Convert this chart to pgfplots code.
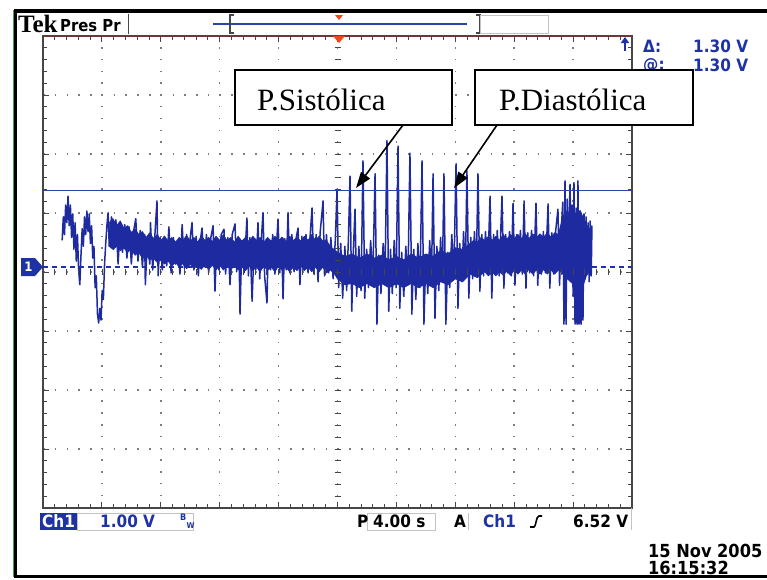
\documentclass[border=0pt]{standalone}
\usepackage{pgfplots}
\pgfplotsset{compat=1.18}
\usepackage{fontspec}
\setmainfont{DejaVu Sans}
\newfontfamily\tekf{DejaVu Sans Condensed}
\newfontfamily\timesf{Liberation Serif}
\usetikzlibrary{arrows.meta}
\definecolor{trace}{RGB}{30,42,160}
\definecolor{cursorblue}{RGB}{40,70,165}
\definecolor{tekblue}{RGB}{30,50,165}
\definecolor{gridgray}{RGB}{125,125,125}
\definecolor{framegray}{RGB}{70,70,70}
\definecolor{topred}{RGB}{110,55,55}
\definecolor{trigred}{RGB}{245,70,20}
\definecolor{boxgray}{RGB}{195,195,195}
\definecolor{tekgreen}{RGB}{60,170,60}
\begin{document}
\begin{tikzpicture}
\useasboundingbox (0pt,0pt) rectangle (767pt,-579pt);
\begin{axis}[
  at={(43pt,-36pt)}, anchor=north west,
  width=589pt, height=472pt, scale only axis,
  xmin=0, xmax=40, ymin=-4.085, ymax=3.915,
  xtick={0,4,...,40},
  ytick={-4.085,-3.085,-2.085,-1.085,-0.085,0.915,1.915,2.915,3.915},
  xticklabels={}, yticklabels={},
  minor x tick num=4, minor y tick num=4,
  tick align=inside, tick pos=both,
  major tick length=6pt, minor tick length=4pt,
  every tick/.style={framegray, line width=0.9pt},
  grid=major,
  major grid style={gridgray, line width=1.5pt, dash pattern=on 1.5pt off 10.28pt},
  axis line style={framegray, line width=1.4pt},
  clip=false,
]
\addplot[tekblue, line width=1.3pt, dash pattern=on 5pt off 4pt] coordinates {(0,0) (40,0)};
% dense part of the trace (envelope of the band)
\addplot[fill=trace, draw=trace, line width=0.8pt, line join=round] coordinates {
(4.5,0.75) (4.75,0.82) (5.0,0.70) (5.25,0.78) (5.5,0.65) (5.75,0.70) (6.0,0.58) (6.25,0.65) (6.5,0.55)
(6.75,0.60) (7.0,0.50) (7.25,0.58) (7.5,0.48) (7.75,0.55) (8.0,0.45) (8.25,0.52) (8.5,0.44) (8.75,0.50)
(9.0,0.42) (9.25,0.50) (9.5,0.45) (9.75,0.53) (10.0,0.44) (10.25,0.50) (10.5,0.42) (10.75,0.52) (11.0,0.45)
(11.25,0.50) (11.5,0.43) (11.75,0.52) (12.0,0.45) (12.25,0.55) (12.5,0.44) (12.75,0.50) (13.0,0.42)
(13.25,0.52) (13.5,0.44) (13.75,0.50) (14.0,0.43) (14.25,0.52) (14.5,0.45) (14.75,0.50) (15.0,0.42)
(15.25,0.50) (15.5,0.44) (15.75,0.52) (16.0,0.45) (16.25,0.50) (16.5,0.43) (16.75,0.52) (17.0,0.45)
(17.25,0.50) (17.5,0.44) (17.75,0.52) (18.0,0.45) (18.25,0.55) (18.5,0.45) (18.75,0.52) (19.0,0.44)
(19.25,0.45) (19.5,0.35) (19.75,0.30) (20,0.25) (20.5,0.18) (21,0.22) (21.5,0.15) (22,0.22) (22.5,0.15)
(23,0.20) (23.5,0.12) (24,0.18) (24.5,0.12) (25,0.22) (25.5,0.15) (26,0.22) (26.5,0.18) (27,0.28)
(27.5,0.22) (28,0.32) (28.5,0.30) (29,0.40) (29.25,0.45) (29.5,0.42) (29.75,0.50) (30,0.45) (30.25,0.52)
(30.5,0.45) (30.75,0.52) (31,0.45) (31.25,0.55) (31.5,0.47) (31.75,0.55) (32,0.48) (32.25,0.55) (32.5,0.48)
(32.75,0.56) (33,0.48) (33.25,0.56) (33.5,0.50) (33.75,0.56) (34,0.50) (34.25,0.58) (34.5,0.50) (34.75,0.58)
(35,0.55) (35.3,0.85) (35.5,0.95) (36.0,0.90) (36.5,0.95) (36.8,0.75) (37.2,0.62)
(37.2,-0.05) (36.9,-0.15) (36.7,-0.30) (36.55,-0.95) (36.15,-0.95) (36.05,-0.30) (35.6,-0.20) (35.25,-0.10)
(35,-0.05) (34.75,-0.12) (34.5,-0.05) (34.25,-0.12) (34,-0.04) (33.75,-0.12) (33.5,-0.05) (33.25,-0.12)
(33,-0.04) (32.75,-0.12) (32.5,-0.05) (32.25,-0.12) (32,-0.05) (31.75,-0.14) (31.5,-0.07) (31.25,-0.14)
(31,-0.08) (30.75,-0.15) (30.5,-0.08) (30.25,-0.15) (30,-0.08) (29.5,-0.18) (29,-0.12) (28.5,-0.25)
(28,-0.20) (27.5,-0.30) (27,-0.25) (26.5,-0.35) (26,-0.28) (25.5,-0.35) (25,-0.28) (24.5,-0.35) (24,-0.28)
(23.5,-0.35) (23,-0.28) (22.5,-0.35) (22,-0.28) (21.5,-0.35) (21,-0.28) (20.5,-0.30) (20,-0.20)
(19.75,-0.10) (19.5,-0.05) (19.25,-0.10) (19,0.00) (18.75,-0.08) (18.5,0.00) (18.25,-0.08) (18,0.00)
(17.75,-0.06) (17.5,0.02) (17.25,-0.06) (17,0.00) (16.75,-0.08) (16.5,0.00) (16.25,-0.06) (16,0.02)
(15.75,-0.08) (15.5,0.00) (15.25,-0.06) (15,0.02) (14.75,-0.08) (14.5,0.00) (14.25,-0.06) (14,0.02)
(13.75,-0.06) (13.5,0.02) (13.25,-0.05) (13,0.03) (12.75,-0.05) (12.5,0.03) (12.25,-0.05) (12,0.03)
(11.75,-0.05) (11.5,0.03) (11.25,-0.04) (11,0.04) (10.75,-0.04) (10.5,0.04) (10.25,-0.03) (10,0.05)
(9.75,-0.03) (9.5,0.06) (9.25,0.00) (9,0.08) (8.75,0.02) (8.5,0.10) (8.25,0.05) (8,0.12) (7.75,0.08)
(7.5,0.15) (7.25,0.12) (7,0.20) (6.75,0.15) (6.5,0.25) (6.25,0.20) (6,0.30) (5.75,0.25) (5.5,0.32)
(5.25,0.28) (5,0.35) (4.75,0.30) (4.5,0.35)
} -- cycle;
\addplot[trace, line width=1.5pt, line join=round] coordinates {
(1.30,0.45) (1.38,0.85) (1.46,0.55) (1.54,1.05) (1.62,0.75) (1.70,1.20) (1.78,0.70) (1.86,1.05)
(1.94,0.50) (2.02,0.90) (2.10,0.30) (2.18,0.75) (2.26,0.10) (2.34,0.55) (2.42,-0.05) (2.50,-0.30)
(2.58,0.20) (2.66,0.65) (2.74,0.35) (2.82,0.85) (2.90,0.55) (2.98,0.95) (3.06,0.60) (3.14,0.90)
(3.22,0.40) (3.30,0.70) (3.38,0.15) (3.46,0.35) (3.54,-0.35) (3.62,-0.15) (3.70,-0.80) (3.78,-0.95)
(3.86,-0.70) (3.94,-0.90) (4.02,-0.40) (4.10,-0.55) (4.18,0.05) (4.26,0.40) (4.34,0.70) (4.42,0.92)
(4.50,0.35) (4.65,0.85) (4.80,0.30) (4.95,0.80) (5.10,0.05) (5.25,0.75) (5.40,0.25) (5.55,0.72)
(5.70,0.15) (5.85,0.68) (6.00,0.05) (6.15,0.60) (6.30,0.82) (6.45,0.10) (6.60,0.62) (6.75,0.00)
(6.90,0.55) (6.95,-0.30) (7.10,0.50) (7.25,0.05) (7.30,0.75) (7.45,-0.05) (7.60,0.55) (7.74,1.12)
(7.82,-0.15) (7.95,0.50)
(8.10,-0.05) (8.25,0.52) (8.40,0.02) (8.55,0.68) (8.70,-0.10) (8.85,0.50) (9.00,0.05) (9.15,0.45)
(9.30,-0.12) (9.45,0.72) (9.60,-0.02) (9.75,0.55) (9.90,0.08) (10.00,0.50) (10.12,0.75) (10.25,-0.05)
(10.40,0.52) (10.55,-0.15) (10.70,0.48) (10.80,0.66) (10.95,0.00) (11.10,0.55) (11.25,-0.10) (11.40,0.50)
(11.55,0.70) (11.68,-0.41) (11.80,0.45) (11.95,-0.05) (12.10,0.55) (12.29,0.64) (12.40,-0.12) (12.55,0.50)
(12.70,-0.30) (12.85,0.55) (13.04,0.73) (13.15,-0.08) (13.30,0.45) (13.38,-0.80) (13.50,0.40) (13.65,-0.10)
(13.85,0.83) (13.95,-0.15) (14.05,0.50) (14.20,-0.58) (14.35,0.45) (14.45,-0.05) (14.60,0.75) (14.72,-0.20)
(14.85,0.55) (14.94,0.92) (15.05,-0.15) (15.21,-0.61) (15.30,0.45) (15.45,-0.05) (15.60,0.55) (15.75,-0.12)
(15.96,0.81) (16.08,-0.10) (16.20,0.50) (16.30,-0.54) (16.42,0.48) (16.52,-0.05) (16.64,0.92) (16.76,-0.10)
(16.90,0.55) (17.05,-0.08) (17.20,0.50) (17.32,0.66) (17.45,-0.30) (17.58,0.52) (17.72,-0.05) (17.86,0.55)
(18.00,-0.10) (18.14,0.52) (18.27,1.00) (18.40,-0.12) (18.55,0.55) (18.68,-0.25) (18.82,0.58) (19.02,1.12)
(19.12,-0.15) (19.25,0.55) (19.40,-0.10)
(19.55,0.50) (19.70,-0.20) (19.85,0.45) (19.97,1.32) (20.08,-0.35) (20.22,0.40) (20.35,-0.53) (20.50,0.35)
(20.62,-0.40) (20.75,0.55) (20.85,1.54) (20.97,-0.75) (21.08,0.30) (21.19,0.98) (21.30,-0.50) (21.45,0.35)
(21.60,-0.40) (21.73,1.80) (21.85,-0.53) (21.98,0.30) (22.10,-0.35) (22.25,0.45) (22.40,-0.20) (22.55,1.58)
(22.68,-0.97) (22.80,0.20) (22.95,-0.45) (23.10,0.40) (23.22,-0.30) (23.36,2.14) (23.48,-0.75) (23.60,0.30)
(23.72,-0.45) (23.85,0.45) (23.98,-0.35) (24.11,2.05) (24.23,-0.70) (24.36,0.25) (24.50,-0.50) (24.64,0.35)
(24.78,-0.30) (24.92,1.93) (25.05,-0.80) (25.18,0.30) (25.32,-0.55) (25.46,0.40) (25.60,-0.35) (25.74,1.80)
(25.87,-0.97) (26.00,0.20) (26.13,-0.45) (26.26,0.45) (26.38,-0.25) (26.49,1.58) (26.62,-0.87) (26.75,0.35)
(26.88,-0.40) (27.00,0.50) (27.12,-0.20) (27.23,1.58) (27.36,-0.97) (27.50,0.25) (27.62,-0.35) (27.76,0.55)
(27.90,-0.15) (28.05,1.75) (28.18,-0.70) (28.30,0.40) (28.44,-0.25) (28.56,0.60) (28.68,-0.15) (28.79,1.63)
(28.92,-0.53) (29.05,0.50) (29.18,-0.20) (29.30,0.60) (29.42,-0.10) (29.54,1.58) (29.67,-0.41) (29.80,0.55)
(29.92,-0.15) (30.05,0.60) (30.20,-0.10) (30.36,1.20) (30.48,-0.53) (30.60,0.55) (30.72,-0.10) (30.85,0.62)
(30.98,-0.15) (31.17,1.20) (31.30,-0.36) (31.42,0.55) (31.55,-0.10) (31.68,0.60) (31.80,-0.15) (31.92,1.08)
(32.05,-0.31) (32.18,0.55) (32.30,-0.08) (32.42,0.62) (32.55,-0.12) (32.67,1.12) (32.80,-0.36) (32.92,0.58)
(33.05,-0.10) (33.18,0.62) (33.32,-0.15) (33.48,1.08) (33.60,-0.31) (33.72,0.55) (33.85,-0.12) (33.98,0.60)
(34.12,-0.10) (34.30,1.07) (34.42,-0.36) (34.55,0.58) (34.68,-0.12) (34.82,0.62) (34.97,0.98) (35.08,-0.31)
(35.20,0.65) (35.30,1.10) (35.38,-0.97) (35.45,1.46) (35.52,-0.97) (35.60,1.15) (35.68,0.20) (35.79,1.40)
(35.86,0.35) (35.93,1.05) (36.00,-0.50) (36.06,1.43) (36.13,-0.97) (36.20,1.00) (36.27,-0.97) (36.33,1.46)
(36.40,-0.97) (36.47,0.95) (36.54,-0.97) (36.60,0.80) (36.67,-0.90) (36.74,0.90) (36.81,-0.20) (36.88,0.85)
(36.95,-0.10) (37.02,0.75) (37.09,-0.25) (37.16,0.78) (37.23,-0.15) (37.28,0.70)
};
\addplot[cursorblue, line width=1.5pt] coordinates {(0,1.30) (40,1.30)};
\end{axis}
\begin{scope}[x=1pt,y=-1pt]
% graticule top edge and centre ticks
\draw[topred, line width=1.4pt] (43,36) -- (632,36);
\foreach \i in {1,...,39} \draw[framegray, line width=0.8pt] (334.5,{36+11.8*\i}) -- (340.5,{36+11.8*\i});
\foreach \i in {1,...,49} \draw[framegray, line width=0.8pt] ({43+11.78*\i},269) -- ({43+11.78*\i},275);
% markers
\fill[trigred] (333,36) -- (345,36) -- (339,43) -- cycle;
\fill[tekblue] (21,258) -- (35,258) -- (43,267) -- (35,276) -- (21,276) -- cycle;
\node[inner sep=0pt, text=white, font=\tekf\bfseries\fontsize{13}{13}\selectfont] at (28.5,267) {1};
\draw[-{Triangle[length=6pt,width=8pt]}, tekblue, line width=1.5pt] (625,51) -- (625,37);
% outer frame
\draw[tekgreen, line width=1pt] (13,10) -- (13,577);
\draw[black, line width=3pt] (15.5,9) -- (15.5,578);
\draw[black, line width=4pt] (14,11) -- (767,11);
\draw[black, line width=3pt] (14,576.5) -- (767,576.5);
% header
\node[inner sep=0pt, anchor=base west, font=\timesf\bfseries\fontsize{25}{25}\selectfont] at (18,32) {Tek};
\node[inner sep=0pt, anchor=base west, font=\tekf\bfseries\fontsize{16.5}{16.5}\selectfont] at (60,31) {Pres Pr};
\draw[framegray, line width=1pt] (128,14) -- (128,34);
\draw[cursorblue, line width=1.5pt] (213,24) -- (467,24);
\draw[framegray, line width=1.2pt] (234,15) -- (230,15) -- (230,33) -- (234,33);
\draw[framegray, line width=1.2pt] (476,15) -- (480,15) -- (480,33) -- (476,33);
\draw[boxgray, line width=0.8pt] (480,15) rectangle (548,33);
\fill[trigred] (335,15) -- (343,15) -- (339,20) -- cycle;
% cursor readouts
\begin{scope}[every node/.style={inner sep=0pt, anchor=base west, text=tekblue, font=\tekf\bfseries\fontsize{17}{17}\selectfont}]
\node at (643,52) {Δ:};
\node at (693,52) {1.30 V};
\node at (643,70) {@:};
\node at (693,71) {1.30 V};
\end{scope}
% annotations
\draw[black, line width=1.5pt, fill=white] (235,70) rectangle (452,125);
\draw[black, line width=1.5pt, fill=white] (475,70) rectangle (693,125);
\node[inner sep=0pt, anchor=base west, font=\timesf\fontsize{31}{31}\selectfont] at (257,110) {P.Sistólica};
\node[inner sep=0pt, anchor=base west, font=\timesf\fontsize{31}{31}\selectfont] at (499,110) {P.Diastólica};
\draw[black, line width=1.6pt, -{Triangle[length=16pt,width=11pt]}] (403,125) -- (356,188);
\draw[black, line width=1.6pt, -{Triangle[length=16pt,width=11pt]}] (497,125) -- (454,188);
% status bar
\fill[tekblue] (40,513) rectangle (77,530);
\draw[boxgray, line width=0.8pt] (77,513) rectangle (193,530);
\draw[boxgray, line width=0.8pt] (367,513) rectangle (435,530);
\draw[boxgray, line width=0.8pt] (468,513) -- (468,530);
\draw[boxgray, line width=0.8pt] (631,508) -- (631,530);
\begin{scope}[every node/.style={inner sep=0pt, anchor=base west, font=\tekf\bfseries\fontsize{17}{17}\selectfont}]
\node[text=white] at (42,527) {Ch1};
\node[text=tekblue] at (100,527) {1.00 V};
\node[text=black] at (357,527) {P};
\node[text=black] at (373,527) {4.00 s};
\node[text=black] at (454,527) {A};
\node[text=tekblue] at (483,527) {Ch1};
\node[text=black] at (573,527) {6.52 V};
\node[text=black, font=\tekf\bfseries\fontsize{18}{18}\selectfont] at (648,557) {15 Nov 2005};
\node[text=black, font=\tekf\bfseries\fontsize{18}{18}\selectfont] at (648,574) {16:15:32};
\node[text=tekblue, font=\tekf\bfseries\fontsize{9}{9}\selectfont] at (180,520) {B};
\node[text=tekblue, font=\tekf\bfseries\fontsize{8}{8}\selectfont] at (186.5,528) {W};
\end{scope}
\draw[black, line width=1.6pt] (530,527) -- (534,527) .. controls (536,527) and (536,516) .. (539,516) -- (542,516);
\end{scope}
\end{tikzpicture}
\end{document}
